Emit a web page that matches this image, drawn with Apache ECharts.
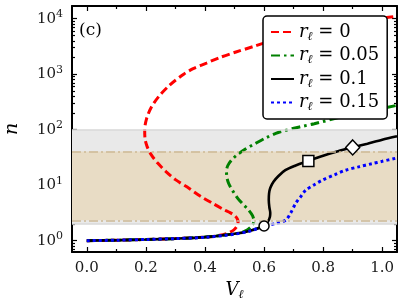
<!DOCTYPE html>
<html><head><meta charset="utf-8">
<script src="https://cdn.jsdelivr.net/npm/echarts@6/dist/echarts.min.js"></script>
<style>html,body{margin:0;padding:0;background:#fff}#c{width:408px;height:305px}</style>
</head><body><div id="c"></div>
<script>
// ---- tick data ----
const xMajorTicks = [0, 0.2, 0.4, 0.6, 0.8, 1.0];
const xMinorTicks = [0.1, 0.3, 0.5, 0.7, 0.9];
const yMajorTicks = [1, 10, 100, 1000, 10000];
const yTickExponents = ['0', '1', '2', '3', '4'];
const yMinorTicks = [0.7, 0.8, 0.9, 2, 3, 4, 5, 6, 7, 8, 9, 20, 30, 40, 50, 60, 70, 80, 90,
  200, 300, 400, 500, 600, 700, 800, 900, 2000, 3000, 4000, 5000, 6000, 7000, 8000, 9000];

// ---- bands ----
const grayBand = [2, 100];
const tanBand = [2.33, 40.5];

// ---- series ----
const seriesNames = ['r0', 'r005', 'r01', 'r015'];
const legendValues = ['0', '0.05', '0.1', '0.15'];

const redV = [0, 0.1, 0.2, 0.3, 0.4, 0.44, 0.475, 0.497, 0.508, 0.512, 0.51, 0.5, 0.485, 0.465, 0.426, 0.385, 0.347, 0.30, 0.269, 0.24, 0.218, 0.204, 0.197, 0.196, 0.2025, 0.218, 0.244, 0.28, 0.328, 0.36, 0.405, 0.45, 0.505, 0.565, 0.6, 0.7, 0.8, 0.9, 1.0, 1.05];
const redN = [1.00, 1.02, 1.05, 1.09, 1.16, 1.22, 1.35, 1.55, 1.8, 2.1, 2.45, 2.85, 3.2, 3.6, 4.7, 6.3, 8.7, 12.6, 17.4, 25, 35.5, 50, 70, 100, 158, 251, 398, 631, 1000, 1259, 1585, 1995, 2512, 3162, 3631, 5129, 6761, 8511, 10233, 11092];

const greenV = [0, 0.1, 0.2, 0.3, 0.4, 0.5, 0.535, 0.556, 0.566, 0.561, 0.548, 0.53, 0.513, 0.5, 0.488, 0.479, 0.474, 0.473, 0.477, 0.49, 0.51, 0.537, 0.57, 0.605, 0.648, 0.72, 0.77, 0.87, 0.96, 1.05];
const greenN = [1.00, 1.02, 1.05, 1.09, 1.16, 1.33, 1.48, 1.78, 2.24, 2.82, 3.55, 4.47, 5.62, 7.08, 8.91, 11.2, 14.1, 17.8, 22.4, 28.2, 35.5, 44.7, 56.2, 70.8, 89.1, 112, 128, 174, 219, 275];

const blackV = [0, 0.1, 0.2, 0.3, 0.4, 0.5, 0.55, 0.6, 0.612, 0.62, 0.621, 0.618, 0.616, 0.617, 0.621, 0.632, 0.648, 0.672, 0.705, 0.75, 0.8, 0.85, 0.9, 0.95, 1.0, 1.05];
const blackN = [1.00, 1.02, 1.05, 1.09, 1.16, 1.33, 1.5, 1.84, 2.14, 2.7, 3.2, 4.0, 5.4, 7.1, 8.9, 11.5, 14.5, 18.6, 22.4, 27.4, 33.9, 40.7, 47.9, 56, 66, 76];

const blueV = [0, 0.1, 0.2, 0.3, 0.4, 0.5, 0.55, 0.6, 0.64, 0.673, 0.69, 0.707, 0.725, 0.741, 0.77, 0.797, 0.84, 0.876, 0.92, 0.966, 1.0, 1.05];
const blueN = [1.00, 1.02, 1.05, 1.09, 1.15, 1.31, 1.48, 1.82, 2.04, 2.34, 3.16, 4.7, 6.3, 8.1, 10.2, 12.3, 15.5, 18.6, 21.4, 24.5, 26.9, 30.9];

const markerV = [0.6, 0.75, 0.9];
const markerN = [1.84, 27.4, 47.9];
const markerSymbols = ['circle', 'rect', 'diamond'];

// ---- build ----
const FONT = 'DejaVu Serif';
const zip = (a, b) => a.map((v, i) => [v, b[i]]);

function xAx(pos, ticks, len, showLine, showLabel) {
  return {
    type: 'value', position: pos, min: -0.05, max: 1.05, gridIndex: 0,
    axisLine: { show: showLine, onZero: false, lineStyle: { color: '#000', width: 2 } },
    axisTick: { show: true, inside: true, length: len, customValues: ticks, lineStyle: { color: '#000', width: 1.2 } },
    axisLabel: showLabel ? { show: true, customValues: ticks, formatter: v => v.toFixed(1), margin: 9, color: '#1a1a1a', fontFamily: FONT, fontSize: 15 } : { show: false },
    splitLine: { show: false }
  };
}
function yAx(pos, ticks, len, showLine, showLabel) {
  return {
    type: 'log', logBase: 10, position: pos, min: 0.625, max: 16940, gridIndex: 0,
    axisLine: { show: showLine, onZero: false, lineStyle: { color: '#000', width: 2 } },
    axisTick: { show: true, inside: true, length: len, customValues: ticks, lineStyle: { color: '#000', width: 1.2 } },
    axisLabel: showLabel ? {
      show: true, customValues: ticks, margin: 9,
      formatter: v => '{b|10}{s|' + yTickExponents[Math.round(Math.log10(v))] + '}',
      rich: {
        b: { fontFamily: FONT, fontSize: 15, lineHeight: 20, color: '#1a1a1a' },
        s: { fontFamily: FONT, fontSize: 11, lineHeight: 10, verticalAlign: 'top', color: '#1a1a1a' }
      }
    } : { show: false },
    splitLine: { show: false }
  };
}

const xAxes = [
  xAx('bottom', xMajorTicks, 5, true, true),
  xAx('bottom', xMinorTicks, 3, false, false),
  xAx('top', xMajorTicks, 5, true, false),
  xAx('top', xMinorTicks, 3, false, false)
];
xAxes[0].name = '{v|V}{l|ℓ}';
xAxes[0].nameLocation = 'middle';
xAxes[0].nameGap = 16;
xAxes[0].nameTextStyle = { rich: {
  v: { fontFamily: FONT, fontStyle: 'italic', fontSize: 18, lineHeight: 22, color: '#000' },
  l: { fontFamily: FONT, fontStyle: 'italic', fontSize: 12, lineHeight: 12, verticalAlign: 'bottom', color: '#000' }
} };

const yAxes = [
  yAx('left', yMajorTicks, 5, true, true),
  yAx('left', yMinorTicks, 3, false, false),
  yAx('right', yMajorTicks, 5, true, false),
  yAx('right', yMinorTicks, 3, false, false)
];
yAxes[0].name = 'n';
yAxes[0].nameLocation = 'middle';
yAxes[0].nameGap = 50;
yAxes[0].nameTextStyle = { fontFamily: FONT, fontStyle: 'italic', fontSize: 19, color: '#000' };

const lineDefs = [
  { name: seriesNames[0], V: redV, N: redN, color: '#ff0000', type: [8, 4], width: 3 },
  { name: seriesNames[1], V: greenV, N: greenN, color: '#008000', type: [9, 4, 2.5, 4], width: 3 },
  { name: seriesNames[2], V: blackV, N: blackN, color: '#000000', type: 'solid', width: 2.6 },
  { name: seriesNames[3], V: blueV, N: blueN, color: '#0000ff', type: [3, 3], width: 3 }
];

const series = [{
  type: 'line', data: [], silent: true, z: 1,
  markArea: {
    silent: true, label: { show: false },
    data: [
      [{ yAxis: grayBand[0], itemStyle: { color: '#e9e9e9' } }, { yAxis: grayBand[1] }],
      [{ yAxis: tanBand[0], itemStyle: { color: '#e8dcc5' } }, { yAxis: tanBand[1] }]
    ]
  },
  markLine: {
    silent: true, symbol: ['none', 'none'], label: { show: false },
    data: [
      { yAxis: grayBand[1], lineStyle: { color: '#d9d9d9', type: 'solid', width: 1.5 } },
      { yAxis: grayBand[0], lineStyle: { color: '#d9d9d9', type: 'solid', width: 1.5 } },
      { yAxis: tanBand[1], lineStyle: { color: '#cdb995', type: [9, 3, 2, 3], width: 1.5 } },
      { yAxis: tanBand[0], lineStyle: { color: '#cdb995', type: [9, 3, 2, 3], width: 1.5 } }
    ]
  }
}];
lineDefs.forEach(d => series.push({
  type: 'line', name: d.name, data: zip(d.V, d.N), symbol: 'none', smooth: 0.3, z: 3,
  lineStyle: { color: d.color, type: d.type, width: d.width },
  itemStyle: { color: d.color }
}));
series.push({
  type: 'scatter', z: 5, silent: true,
  data: markerV.map((v, i) => ({
    value: [v, markerN[i]], symbol: markerSymbols[i],
    symbolSize: markerSymbols[i] === 'diamond' ? [14, 15] : (markerSymbols[i] === 'rect' ? 11 : 10)
  })),
  itemStyle: { color: '#fff', borderColor: '#000', borderWidth: 1.5, opacity: 1 }
});

const chart = echarts.init(document.getElementById('c'), null, { renderer: 'canvas' });
chart.setOption({
  animation: false,
  backgroundColor: '#fff',
  grid: { left: 72, top: 6, width: 325, height: 246, containLabel: false, outerBoundsMode: 'none' },
  xAxis: xAxes,
  yAxis: yAxes,
  legend: {
    data: seriesNames, orient: 'vertical', left: 263, top: 16,
    backgroundColor: '#fff', borderColor: '#000', borderWidth: 1.5, borderRadius: 4,
    padding: [7, 8, 6, 7], itemGap: 4, itemWidth: 23, itemHeight: 14,
    itemStyle: { opacity: 0 },
    formatter: name => '{r|r}{l|ℓ}{t| = ' + legendValues[seriesNames.indexOf(name)] + '}',
    textStyle: { rich: {
      r: { fontFamily: FONT, fontStyle: 'italic', fontSize: 18, lineHeight: 21, color: '#000' },
      l: { fontFamily: FONT, fontStyle: 'italic', fontSize: 12, lineHeight: 10, verticalAlign: 'bottom', color: '#000' },
      t: { fontFamily: FONT, fontSize: 18, lineHeight: 21, color: '#000' }
    } }
  },
  graphic: [{ type: 'text', left: 79, top: 22, style: { text: '(c)', font: '17px "DejaVu Serif"', fill: '#000' } }],
  series: series
});
</script></body></html>
